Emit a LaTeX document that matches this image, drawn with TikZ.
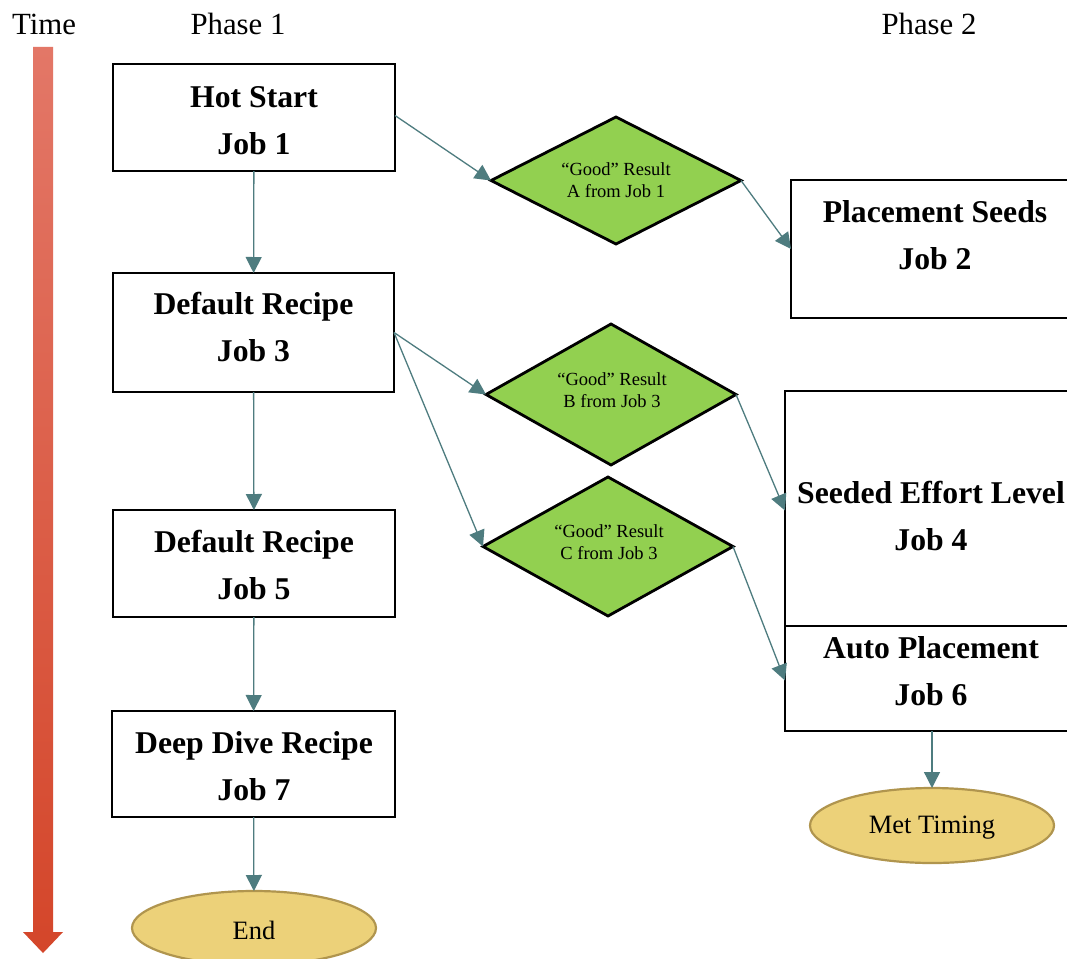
\documentclass[tikz,border=0pt]{standalone}
\usepackage{fontspec}
\setmainfont{Liberation Serif}
\usetikzlibrary{shapes.geometric,arrows.meta}
\definecolor{teal}{HTML}{4E7C7F}
\definecolor{leaf}{HTML}{92D050}
\definecolor{sand}{HTML}{ECD179}
\definecolor{sandline}{HTML}{B0954E}
\definecolor{arrtop}{HTML}{E37767}
\definecolor{arrbot}{HTML}{D4462A}
\tikzset{
  jobbox/.style={draw=black, line width=2.9pt, fill=white, rectangle, inner sep=0pt, outer sep=0pt,
    align=center, font=\fontsize{31.7}{47}\selectfont\bfseries},
  jobtext/.style={align=center, inner sep=0pt, font=\fontsize{31.7}{47}\selectfont\bfseries},
  decision/.style={draw=black, line width=2.8pt, fill=leaf, diamond, aspect=2, inner sep=0pt, outer sep=0pt,
    align=center, font=\fontsize{18.5}{21}\selectfont},
  dectext/.style={align=center, inner sep=0pt, font=\fontsize{18.5}{21.5}\selectfont},
  terminal/.style={draw=sandline, line width=2.2pt, fill=sand, ellipse, inner sep=0pt, outer sep=0pt,
    font=\fontsize{26.5}{30}\selectfont},
  termtext/.style={inner sep=0pt, font=\fontsize{26.5}{30}\selectfont},
  header/.style={inner sep=0pt, font=\fontsize{30.8}{36}\selectfont},
  conn/.style={draw=teal, line width=1.3pt, -{Triangle[length=16pt,width=16pt]}},
}
\begin{document}
\begin{tikzpicture}[x=1pt,y=-1pt]
\useasboundingbox (0,0) rectangle (1067,958);
\clip (0,0) rectangle (1067,958);
\fill[white] (0,0) rectangle (1067,958);

% headers
\node[header] (time) at (44,24) {Time};
\node[header] (ph1) at (238,24) {Phase 1};
\node[header] (ph2) at (929,24) {Phase 2};

% time arrow
\shade[top color=arrtop, bottom color=arrbot]
  (33,47) -- (53,47) -- (53,932) -- (63,932) -- (43,953) -- (23,932) -- (33,932) -- cycle;

% left column
\node[jobbox, minimum width=282pt, minimum height=107pt] (j1) at (254,117.5) {};
\node[jobtext] (j1t) at (254,120.5) {Hot Start\\Job 1};
\node[jobbox, minimum width=281pt, minimum height=119pt] (j3) at (253.5,332.5) {};
\node[jobtext] (j3t) at (253.5,327) {Default Recipe\\Job 3};
\node[jobbox, minimum width=282pt, minimum height=107pt] (j5) at (254,563.5) {};
\node[jobtext] (j5t) at (254,565) {Default Recipe\\Job 5};
\node[jobbox, minimum width=283pt, minimum height=106pt] (j7) at (253.5,764) {};
\node[jobtext] (j7t) at (254,766) {Deep Dive Recipe\\Job 7};
\node[terminal, minimum width=244pt, minimum height=74pt] (end) at (254,928) {};
\node[termtext] (endt) at (254,930) {End};

% diamonds
\node[decision, minimum width=250pt, minimum height=127pt] (dA) at (616,180.5) {};
\node[dectext] (dAt) at (616,180) {“Good” Result\\A from Job 1};
\node[decision, minimum width=250pt, minimum height=141pt] (dB) at (611,394.5) {};
\node[dectext] (dBt) at (612,390) {“Good” Result\\B from Job 3};
\node[decision, minimum width=250pt, minimum height=139pt] (dC) at (608,546.5) {};
\node[dectext] (dCt) at (609,542) {“Good” Result\\C from Job 3};

% right column
\node[jobbox, minimum width=290pt, minimum height=138pt] (j2) at (936,249) {};
\node[jobtext] (j2t) at (935,235.5) {Placement Seeds\\Job 2};
\node[jobbox, minimum width=292pt, minimum height=235pt] (j4) at (931,508.5) {};
\node[jobtext] (j4t) at (931,516) {Seeded Effort Level\\Job 4};
\node[jobbox, minimum width=292pt, minimum height=105pt] (j6) at (931,678.5) {};
\node[jobtext] (j6t) at (931,671) {Auto Placement\\Job 6};
\node[terminal, minimum width=244pt, minimum height=75pt] (met) at (932,825.5) {};
\node[termtext] (mett) at (932,828) {Met Timing};

% connectors
\draw[conn] (j1) -- (j3);
\draw[conn] (j3) -- (j5);
\draw[conn] (j5) -- (j7);
\draw[conn] (j7) -- (end);
\draw[conn] ([yshift=2pt]j1.east) -- (dA.west);
\draw[conn] (dA.east) -- (j2.west);
\draw[conn] (j3.east) -- (dB.west);
\draw[conn] (j3.east) -- (dC.west);
\draw[conn] (dB.east) -- ([yshift=-2pt]j4.west);
\draw[conn] (dC.east) -- ([yshift=-2pt]j6.west);
\draw[conn] (j6.south -| met.north) -- (met.north);
\end{tikzpicture}
\end{document}
